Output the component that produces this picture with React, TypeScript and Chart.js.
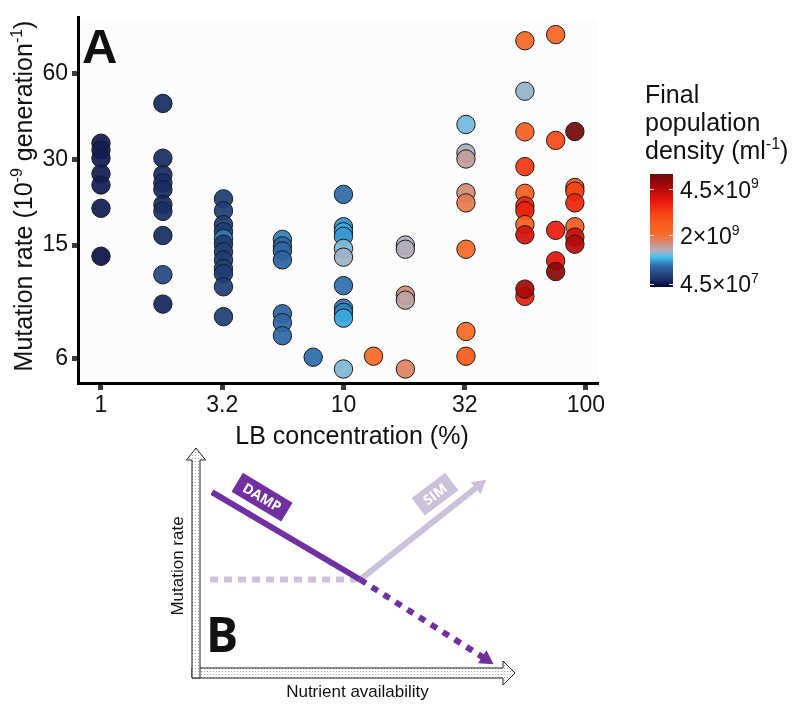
import React, { useEffect, useRef } from 'react';
import { Chart, registerables } from 'chart.js';

Chart.register(...registerables);

const FONT = '"Liberation Sans", Arial, Helvetica, sans-serif';
const FONT_B = '"Open Sans", "Liberation Sans", Arial, sans-serif';

// ---------- Panel A data ----------
// LB concentration (%) of each column of points
const LB_CONC = [1, 1.8, 3.2, 5.6, 7.5, 10, 13.3, 18, 32, 56, 75, 90];

// mutation rate (10^-9 per generation) per column
const RATE_C1 = [34.2, 32.4, 30.3, 26.7, 24.4, 20.2, 13.7];
const RATE_C2 = [47.2, 30.3, 26.5, 24.8, 23.5, 20.8, 19.7, 16.2, 11.8, 9.3];
const RATE_C3 = [21.8, 19.8, 17.7, 16.7, 15.8, 15.1, 14.2, 13.3, 12.4, 11.9, 10.7, 8.4];
const RATE_C4 = [15.7, 14.9, 14.3, 13.3, 8.6, 8.0, 7.2];
const RATE_C5 = [6.05];
const RATE_C6 = [22.6, 17.4, 16.7, 16.1, 14.6, 13.6, 10.8, 9.0, 8.7, 8.3, 5.5];
const RATE_C7 = [6.1];
const RATE_C8 = [15.0, 14.5, 10.0, 9.6, 5.5];
const RATE_C9 = [39.8, 31.6, 30.1, 22.9, 21.1, 14.5, 7.45, 6.1];
const RATE_C10 = [78.4, 52.1, 37.5, 28.3, 22.8, 20.6, 19.8, 17.7, 16.3, 9.9, 10.5];
const RATE_C11 = [82.4, 35.0, 16.9, 13.2, 12.1];
const RATE_C12 = [37.6, 23.9, 23.2, 21.1, 17.4, 16.0, 15.1];

// final population density (10^9 per ml) per point
const DENS_C1 = [0.08, 0.08, 0.08, 0.08, 0.08, 0.08, 0.03];
const DENS_C2 = [0.14, 0.14, 0.14, 0.16, 0.14, 0.14, 0.16, 0.14, 0.35, 0.12];
const DENS_C3 = [0.22, 0.24, 0.24, 0.24, 0.7, 0.24, 0.27, 0.24, 0.27, 0.24, 0.24, 0.24];
const DENS_C4 = [0.72, 0.6, 0.62, 0.58, 0.58, 0.6, 0.6];
const DENS_C5 = [0.64];
const DENS_C6 = [0.64, 0.78, 0.88, 0.82, 1.14, 1.22, 0.66, 0.68, 0.72, 0.88, 1.14];
const DENS_C7 = [2.2];
const DENS_C8 = [1.27, 1.3, 1.62, 1.4, 1.75];
const DENS_C9 = [1.1, 1.25, 1.45, 1.62, 1.85, 2.1, 2.1, 2.7];
const DENS_C10 = [2.2, 1.2, 2.5, 3.3, 2.5, 3.6, 3.65, 2.55, 4.1, 3.65, 4.7];
const DENS_C11 = [2.4, 3.0, 3.75, 3.9, 5.0];
const DENS_C12 = [5.3, 2.8, 3.1, 3.6, 2.6, 4.2, 4.5];

const RATES = [RATE_C1, RATE_C2, RATE_C3, RATE_C4, RATE_C5, RATE_C6, RATE_C7, RATE_C8, RATE_C9, RATE_C10, RATE_C11, RATE_C12];
const DENSITIES = [DENS_C1, DENS_C2, DENS_C3, DENS_C4, DENS_C5, DENS_C6, DENS_C7, DENS_C8, DENS_C9, DENS_C10, DENS_C11, DENS_C12];

// axis ticks
const X_TICKS = [1, 3.162, 10, 31.62, 100];
const X_TICK_LABELS = ['1', '3.2', '10', '32', '100'];
const Y_TICKS = [6, 15, 30, 60];
const Y_TICK_LABELS = ['6', '15', '30', '60'];

// colour scale (density in 10^9/ml -> colour)
const CSCALE_D = [0, 0.2, 0.64, 0.97, 1.27, 1.58, 2.07, 2.7, 3.25, 3.81, 4.59, 5.4];
const CSCALE_C = ['#0a0a40', '#1e3a70', '#2e6aa8', '#40c0f0', '#b0b0c0', '#d09080', '#f86a28', '#f85a1c', '#f43a12', '#e8180c', '#b00808', '#6a0a0a'];
const LEGEND_VALUES = [4.5, 2, 0.045];
const LEGEND_MANT = ['4.5', '2', '4.5'];
const LEGEND_EXP = ['9', '9', '7'];

// ---------- Panel B data (schematic, 0..100 units) ----------
const B_DAMP_X = [3.8, 50.8];
const B_DAMP_Y = [80.3, 40.4];
const B_DAMP_LOW_X = [50.8, 90.8];
const B_DAMP_LOW_Y = [40.4, 4.0];
const B_SIM_X = [50.8, 88.6];
const B_SIM_Y = [40.4, 83.4];
const B_FLAT_X = [3.2, 50.8];
const B_FLAT_Y = [40.4, 40.4];
const B_LABEL_X = [19.7, 74.6];
const B_LABEL_Y = [78.0, 79.4];
const B_LABEL_TEXT = ['DAMP', 'SIM'];

const PURPLE = '#7030a0';
const LAVENDER = '#ccc1da';

function hexToRgb(h: string) {
  const n = parseInt(h.slice(1), 16);
  return [(n >> 16) & 255, (n >> 8) & 255, n & 255];
}

function densityColor(d: number, alpha = 1) {
  let i = 0;
  while (i < CSCALE_D.length - 2 && d > CSCALE_D[i + 1]) i++;
  const t = Math.max(0, Math.min(1, (d - CSCALE_D[i]) / (CSCALE_D[i + 1] - CSCALE_D[i])));
  const a = hexToRgb(CSCALE_C[i]);
  const b = hexToRgb(CSCALE_C[i + 1]);
  const c = a.map((v, k) => Math.round(v + (b[k] - v) * t));
  return `rgba(${c[0]},${c[1]},${c[2]},${alpha})`;
}

// colour bar geometry
const CB_LEFT = 650;
const CB_W = 23;
const CB_TOP = 174;
const CB_BOTTOM = 287;
const CB_Y_LOW = 283.5; // y of 4.5e7
const CB_Y_HIGH = 189; // y of 4.5e9
const CB_GAMMA = 0.8;
function densToY(d: number) {
  const g = (v: number) => Math.pow(Math.max(v, 0), CB_GAMMA);
  return CB_Y_LOW - ((g(d) - g(0.045)) / (g(4.5) - g(0.045))) * (CB_Y_LOW - CB_Y_HIGH);
}

type Part = { t: string; sup?: boolean };
function drawRich(ctx: CanvasRenderingContext2D, parts: Part[], x: number, y: number, size: number, align: 'left' | 'center', weight = 'normal') {
  const supSize = Math.round(size * 0.62);
  ctx.textBaseline = 'alphabetic';
  ctx.textAlign = 'left';
  const widths = parts.map((p) => {
    ctx.font = `${weight} ${p.sup ? supSize : size}px ${FONT}`;
    return ctx.measureText(p.t).width;
  });
  const total = widths.reduce((s, w) => s + w, 0);
  let cx = align === 'center' ? x - total / 2 : x;
  parts.forEach((p, i) => {
    ctx.font = `${weight} ${p.sup ? supSize : size}px ${FONT}`;
    ctx.fillText(p.t, cx, p.sup ? y - size * 0.4 : y);
    cx += widths[i];
  });
}

const panelAPlugin = {
  id: 'panelA',
  beforeDraw(chart: any) {
    const { ctx, chartArea } = chart;
    ctx.save();
    ctx.fillStyle = '#fcfcfc';
    ctx.fillRect(chartArea.left, chartArea.top, chartArea.right - chartArea.left, chartArea.bottom - chartArea.top);
    ctx.restore();
  },
  afterDraw(chart: any) {
    const { ctx } = chart;
    ctx.save();
    ctx.fillStyle = '#111';
    // panel letter
    ctx.font = `bold 49px ${FONT}`;
    ctx.textAlign = 'left';
    ctx.textBaseline = 'alphabetic';
    ctx.fillText('A', 82, 63);
    // y title
    ctx.save();
    ctx.translate(32, 196);
    ctx.rotate(-Math.PI / 2);
    drawRich(ctx, [{ t: 'Mutation rate (10' }, { t: '-9', sup: true }, { t: ' generation' }, { t: '-1', sup: true }, { t: ')' }], 0, 0, 25, 'center');
    ctx.restore();
    // x title
    drawRich(ctx, [{ t: 'LB concentration (%)' }], 352, 444, 25, 'center');
    // legend title
    drawRich(ctx, [{ t: 'Final' }], 645, 103, 25, 'left');
    drawRich(ctx, [{ t: 'population' }], 645, 131, 25, 'left');
    drawRich(ctx, [{ t: 'density (ml' }, { t: '-1', sup: true }, { t: ')' }], 645, 159, 25, 'left');
    // colour bar
    const grad = ctx.createLinearGradient(0, CB_BOTTOM, 0, CB_TOP);
    CSCALE_D.forEach((d, i) => {
      const off = (CB_BOTTOM - densToY(d)) / (CB_BOTTOM - CB_TOP);
      grad.addColorStop(Math.max(0, Math.min(1, off)), CSCALE_C[i]);
    });
    ctx.fillStyle = grad;
    ctx.fillRect(CB_LEFT, CB_TOP, CB_W, CB_BOTTOM - CB_TOP);
    ctx.strokeStyle = 'rgba(255,255,255,0.9)';
    ctx.lineWidth = 1;
    LEGEND_VALUES.forEach((v, i) => {
      const y = Math.round(densToY(v)) + 0.5;
      ctx.beginPath();
      ctx.moveTo(CB_LEFT, y);
      ctx.lineTo(CB_LEFT + 4, y);
      ctx.moveTo(CB_LEFT + CB_W - 4, y);
      ctx.lineTo(CB_LEFT + CB_W, y);
      ctx.stroke();
      ctx.fillStyle = '#111';
      drawRich(ctx, [{ t: LEGEND_MANT[i] + '\u00d710' }, { t: LEGEND_EXP[i], sup: true }], 680, densToY(v) + 8.5, 23, 'left');
    });
    ctx.restore();
  },
};

const panelBPlugin = {
  id: 'panelB',
  beforeDatasetsDraw(chart: any) {
    const { ctx, chartArea } = chart;
    const L = chartArea.left;
    const R = chartArea.right;
    const T = chartArea.top;
    const B = chartArea.bottom;
    const pc = document.createElement('canvas');
    pc.width = 3;
    pc.height = 3;
    const p = pc.getContext('2d')!;
    p.fillStyle = '#ffffff';
    p.fillRect(0, 0, 3, 3);
    p.fillStyle = '#a8a8a8';
    p.fillRect(0, 0, 1, 1);
    const pattern = ctx.createPattern(pc, 'repeat');
    ctx.save();
    ctx.lineWidth = 1;
    ctx.strokeStyle = '#222';
    ctx.fillStyle = pattern;
    // horizontal arrow
    ctx.beginPath();
    ctx.moveTo(L - 8, B);
    ctx.lineTo(R - 12, B);
    ctx.lineTo(R - 12, B - 7);
    ctx.lineTo(R, B + 5);
    ctx.lineTo(R - 12, B + 17);
    ctx.lineTo(R - 12, B + 10);
    ctx.lineTo(L - 8, B + 10);
    ctx.closePath();
    ctx.fill();
    ctx.stroke();
    // vertical arrow
    ctx.beginPath();
    ctx.moveTo(L - 8, B + 10);
    ctx.lineTo(L - 8, T + 11);
    ctx.lineTo(L - 13.5, T + 11);
    ctx.lineTo(L - 4, T - 1);
    ctx.lineTo(L + 5.5, T + 11);
    ctx.lineTo(L, T + 11);
    ctx.lineTo(L, B + 10);
    ctx.closePath();
    ctx.fill();
    ctx.stroke();
    // axis texts
    ctx.fillStyle = '#111';
    ctx.font = `17px ${FONT}`;
    ctx.textAlign = 'center';
    ctx.textBaseline = 'middle';
    ctx.fillText('Nutrient availability', (L + R) / 2, B + 24);
    ctx.save();
    ctx.translate(L - 22, 126);
    ctx.rotate(-Math.PI / 2);
    ctx.fillText('Mutation rate', 0, 0);
    ctx.restore();
    ctx.font = `bold 48px ${FONT_B}`;
    ctx.textAlign = 'left';
    ctx.textBaseline = 'alphabetic';
    ctx.fillText('B', L + 6, B - 16);
    ctx.restore();
  },
  afterDatasetsDraw(chart: any) {
    const { ctx, scales } = chart;
    const rot = [31, -37];
    const w = [58, 42];
    const fill = [PURPLE, LAVENDER];
    ctx.save();
    B_LABEL_TEXT.forEach((txt, i) => {
      const x = scales.x.getPixelForValue(B_LABEL_X[i]);
      const y = scales.y.getPixelForValue(B_LABEL_Y[i]);
      ctx.save();
      ctx.translate(x, y);
      ctx.rotate((rot[i] * Math.PI) / 180);
      ctx.fillStyle = fill[i];
      ctx.fillRect(-w[i] / 2, -11, w[i], 22);
      ctx.fillStyle = '#ffffff';
      ctx.font = `bold 14px ${FONT_B}`;
      ctx.textAlign = 'center';
      ctx.textBaseline = 'middle';
      ctx.fillText(txt, 0, 1);
      ctx.restore();
    });
    ctx.restore();
  },
};

function seg(xs: number[], ys: number[]) {
  return xs.map((x, i) => ({ x, y: ys[i] }));
}

export default function App() {
  const refA = useRef<HTMLCanvasElement>(null);
  const refB = useRef<HTMLCanvasElement>(null);

  useEffect(() => {
    const points: { x: number; y: number }[] = [];
    const colors: string[] = [];
    RATES.forEach((col, ci) => {
      col.forEach((r, i) => {
        points.push({ x: LB_CONC[ci], y: r });
        colors.push(densityColor(DENSITIES[ci][i], 0.93));
      });
    });

    const tickFont = { family: FONT, size: 23 };
    const chartA = new Chart(refA.current!, {
      type: 'scatter',
      data: {
        datasets: [
          {
            data: points,
            pointRadius: 9.2,
            pointHoverRadius: 9.2,
            pointBorderWidth: 1,
            pointBorderColor: '#1a1a1a',
            pointBackgroundColor: colors,
            clip: false as any,
          },
        ],
      },
      options: {
        animation: false,
        responsive: false,
        events: [],
        layout: { padding: { left: 0, top: 13, right: 202, bottom: 0 } },
        plugins: { legend: { display: false }, tooltip: { enabled: false } },
        scales: {
          x: {
            type: 'logarithmic',
            min: 0.804,
            max: 112.1,
            afterBuildTicks: (s: any) => {
              s.ticks = X_TICKS.map((v) => ({ value: v }));
            },
            afterFit: (s: any) => {
              s.height = 67;
            },
            ticks: {
              autoSkip: false,
              maxRotation: 0,
              font: tickFont,
              color: '#111',
              padding: 2,
              callback: (_v: any, i: number) => X_TICK_LABELS[i],
            },
            grid: { drawOnChartArea: false, drawTicks: true, tickLength: 7, tickWidth: 5, tickColor: '#3a3a3a' },
            border: { display: true, color: '#000', width: 3 },
          },
          y: {
            type: 'logarithmic',
            min: 4.91,
            max: 94.4,
            afterBuildTicks: (s: any) => {
              s.ticks = Y_TICKS.map((v) => ({ value: v }));
            },
            afterFit: (s: any) => {
              s.width = 78;
            },
            ticks: {
              autoSkip: false,
              font: tickFont,
              color: '#111',
              padding: 4,
              callback: (_v: any, i: number) => Y_TICK_LABELS[i],
            },
            grid: { drawOnChartArea: false, drawTicks: true, tickLength: 6, tickWidth: 5, tickColor: '#3a3a3a' },
            border: { display: true, color: '#000', width: 3 },
          },
        },
      } as any,
      plugins: [panelAPlugin],
    });

    const line = (xs: number[], ys: number[], color: string, dash: number[], head: number) => ({
      data: seg(xs, ys),
      showLine: true,
      borderColor: color,
      borderWidth: 6,
      borderDash: dash,
      borderCapStyle: 'butt',
      pointStyle: 'triangle',
      pointRadius: [0, head ? 9 : 0],
      pointHoverRadius: [0, head ? 9 : 0],
      pointRotation: [0, head],
      pointBackgroundColor: color,
      pointBorderWidth: 0,
      clip: false,
    });

    const chartB = new Chart(refB.current!, {
      type: 'scatter',
      data: {
        datasets: [
          line(B_DAMP_LOW_X, B_DAMP_LOW_Y, PURPLE, [7, 7], 123),
          line(B_DAMP_X, B_DAMP_Y, PURPLE, [], 0),
          line(B_SIM_X, B_SIM_Y, LAVENDER, [], 51),
          line(B_FLAT_X, B_FLAT_Y, LAVENDER, [8, 6], 0),
        ] as any,
      },
      options: {
        animation: false,
        responsive: false,
        events: [],
        layout: { padding: { left: 200, right: 285, top: 5, bottom: 43 } },
        plugins: { legend: { display: false }, tooltip: { enabled: false } },
        scales: {
          x: { type: 'linear', min: 0, max: 100, display: false },
          y: { type: 'linear', min: 0, max: 100, display: false },
        },
      } as any,
      plugins: [panelBPlugin],
    });

    return () => {
      chartA.destroy();
      chartB.destroy();
    };
  }, []);

  return (
    <div style={{ position: 'absolute', left: 0, top: 0, width: 800, height: 711, background: '#ffffff', overflow: 'hidden' }}>
      <canvas ref={refA} width={800} height={450} style={{ position: 'absolute', left: 0, top: 0, width: 800, height: 450 }} />
      <canvas ref={refB} width={800} height={271} style={{ position: 'absolute', left: 0, top: 440, width: 800, height: 271 }} />
    </div>
  );
}
